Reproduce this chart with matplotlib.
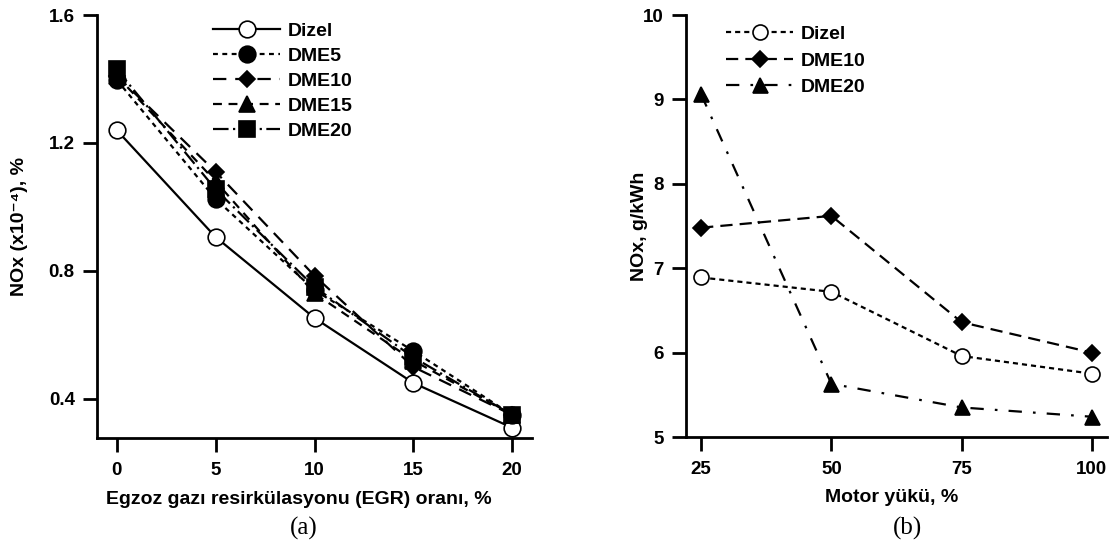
import matplotlib
matplotlib.use("Agg")
import matplotlib.pyplot as plt

plt.rcParams['font.family'] = ['Liberation Sans', 'DejaVu Sans']
plt.rcParams['font.weight'] = 'bold'

# Panel (a) data
egr = [0, 5, 10, 15, 20]
dizel_a = [1.24, 0.906, 0.653, 0.45, 0.31]
dme5_a = [1.397, 1.025, 0.74, 0.55, 0.35]
dme10_a = [1.41, 1.11, 0.785, 0.50, 0.35]
dme15_a = [1.41, 1.08, 0.73, 0.52, 0.35]
dme20_a = [1.43, 1.055, 0.75, 0.53, 0.35]
yticks_a = [0.4, 0.8, 1.2, 1.6]

# Panel (b) data
load = [25, 50, 75, 100]
dizel_b = [6.89, 6.72, 5.96, 5.75]
dme10_b = [7.48, 7.62, 6.36, 6.0]
dme20_b = [9.06, 5.63, 5.35, 5.24]
yticks_b = [5, 6, 7, 8, 9, 10]

W, H = 1112, 541
fig = plt.figure(figsize=(W / 100, H / 100), dpi=100)
axa = fig.add_axes([97 / W, 1 - 438 / H, 435 / W, 423 / H])
axb = fig.add_axes([686 / W, 1 - 437 / H, 421 / W, 422 / H])

lw = 1.6
ms = 12
FS = 14
TFS = 13.5

series_a = [
    (dizel_a, 'Dizel', '-', 'o', 'white'),
    (dme5_a, 'DME5', (0, (2.2, 2.0)), 'o', 'black'),
    (dme10_a, 'DME10', (0, (6, 4)), 'D', 'black'),
    (dme15_a, 'DME15', (0, (4, 3)), '^', 'black'),
    (dme20_a, 'DME20', (0, (7, 2, 1, 2)), 's', 'black'),
]
for vals, name, ls, mk, fc in series_a:
    m = ms * 0.68 if mk == 'D' else ms
    axa.plot(egr, vals, linestyle=ls, color='black', lw=lw, marker=mk,
             markersize=m, markerfacecolor=fc, markeredgecolor='black',
             markeredgewidth=1.2, label=name)

axa.set_xlim(-1, 21)
axa.set_ylim(0.278, 1.6)
axa.set_xticks(egr)
axa.set_yticks(yticks_a)
axa.set_yticklabels([f"{v:.1f}" for v in yticks_a])
axa.set_xlabel("Egzoz gazı resirkülasyonu (EGR) oranı, %", fontsize=FS, fontweight='bold')
axa.set_ylabel("NOx (x10⁻⁴), %", fontsize=FS, fontweight='bold')
axa.legend(loc='upper left', bbox_to_anchor=(0.267, 0.982), frameon=False,
           fontsize=FS, handlelength=3.45, handletextpad=0.4, labelspacing=0.38,
           borderaxespad=0, borderpad=0)

series_b = [
    (dizel_b, 'Dizel', (0, (2.3, 1.8)), 'o', 'white'),
    (dme10_b, 'DME10', (0, (5.5, 3.2)), 'D', 'black'),
    (dme20_b, 'DME20', (0, (6, 5, 1.2, 5)), '^', 'black'),
]
for vals, name, ls, mk, fc in series_b:
    m = ms * 0.68 if mk == 'D' else ms * 0.9
    axb.plot(load, vals, linestyle=ls, color='black', lw=lw, marker=mk,
             markersize=m, markerfacecolor=fc, markeredgecolor='black',
             markeredgewidth=1.2, label=name)

axb.set_xlim(22.1, 102.9)
axb.set_ylim(5, 10)
axb.set_xticks(load)
axb.set_yticks(yticks_b)
axb.set_xlabel("Motor yükü, %", fontsize=FS, fontweight='bold')
axb.set_ylabel("NOx, g/kWh", fontsize=FS, fontweight='bold')
axb.legend(loc='upper left', bbox_to_anchor=(0.095, 0.975), frameon=False,
           fontsize=FS, handlelength=3.45, handletextpad=0.4, labelspacing=0.45,
           borderaxespad=0, borderpad=0)

for ax in (axa, axb):
    for s in ('top', 'right'):
        ax.spines[s].set_visible(False)
    for s in ('left', 'bottom'):
        ax.spines[s].set_linewidth(2)
    ax.tick_params(direction='out', length=10, width=2, labelsize=TFS, pad=6)
    ax.tick_params(axis='x', pad=7)
    for lab in ax.get_xticklabels() + ax.get_yticklabels():
        lab.set_fontweight('bold')
    ax.xaxis.label.set_va('center')
    ax.yaxis.label.set_va('center')

# label positions (axes fractions)
axa.xaxis.set_label_coords((299 - 97) / 435, (438 - 500) / 423)
axa.yaxis.set_label_coords((20 - 97) / 435, 0.5)
axb.xaxis.set_label_coords((892 - 686) / 421, (437 - 498) / 422)
axb.yaxis.set_label_coords((640 - 686) / 421, 0.5)

fig.text(304 / W, 1 - 528 / H, "(a)", family='Liberation Serif',
         fontweight='normal', fontsize=18, ha='center', va='center')
fig.text(907 / W, 1 - 528 / H, "(b)", family='Liberation Serif',
         fontweight='normal', fontsize=18, ha='center', va='center')

fig.savefig("out.png", dpi=100)
